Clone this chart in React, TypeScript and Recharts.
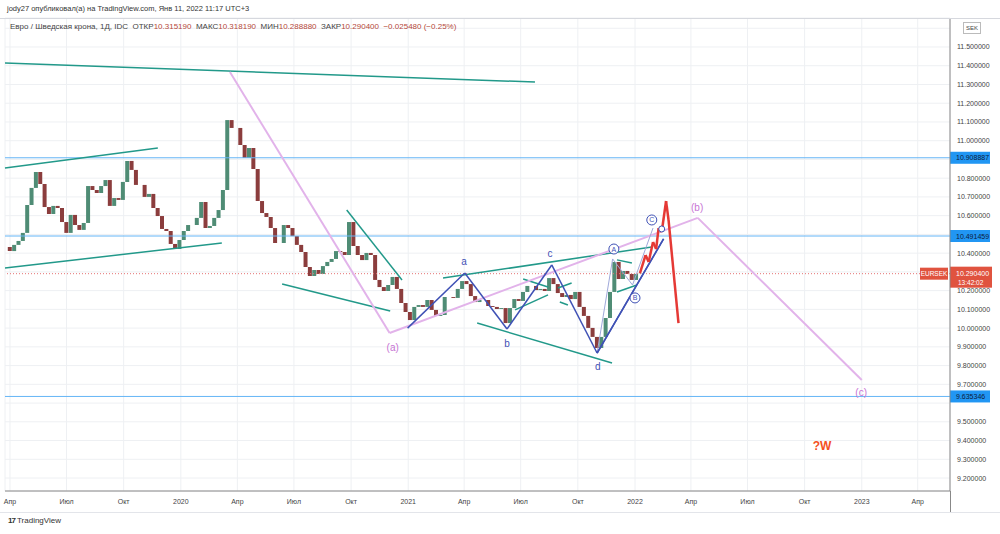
import React from 'react';
import { ComposedChart, Bar, XAxis, YAxis, CartesianGrid, ReferenceLine, ReferenceDot, Cell } from 'recharts';

// days are counted from 2019-04-01
const START_DAY = -7; // week of 2019-03-25
const weeklyClose = [
  10.433, 10.411, 10.444, 10.465, 10.508, 10.657, 10.748, 10.833, 10.769, 10.646,
  10.609, 10.652, 10.641, 10.566, 10.508, 10.604, 10.55, 10.524, 10.561, 10.758,
  10.737, 10.721, 10.758, 10.79, 10.652, 10.694, 10.684, 10.78, 10.892, 10.844,
  10.764, 10.764, 10.7, 10.716, 10.641, 10.598, 10.529, 10.518, 10.449, 10.422,
  10.47, 10.518, 10.55, 10.55, 10.588, 10.673, 10.534, 10.545, 10.588, 10.63,
  10.737, 11.11, 11.068, 11.068, 10.977, 10.908, 10.961, 10.849, 10.678, 10.614,
  10.593, 10.534, 10.454, 10.454, 10.55, 10.534, 10.491, 10.444, 10.406, 10.326,
  10.278, 10.31, 10.289, 10.331, 10.353, 10.369, 10.411, 10.406, 10.39, 10.566,
  10.438, 10.39, 10.363, 10.401, 10.39, 10.257, 10.219, 10.198, 10.23, 10.273,
  10.209, 10.134, 10.086, 10.043, 10.113, 10.123, 10.113, 10.15, 10.097, 10.065,
  10.07, 10.166, 10.166, 10.161, 10.209, 10.251, 10.235, 10.171, 10.139, 10.15,
  10.15, 10.118, 10.113, 10.102, 10.107, 10.027, 10.107, 10.155, 10.145, 10.193,
  10.225, 10.225, 10.203, 10.209, 10.198, 10.267, 10.235, 10.187, 10.166, 10.177,
  10.155, 10.193, 10.113, 10.065, 10.001, 9.953, 9.894, 9.953, 10.054, 10.193,
  10.353, 10.262, 10.305, 10.289, 10.257, 10.289, 10.2904,
];

const TIME_TICKS = [0, 91, 183, 275, 366, 457, 549, 641, 731, 822, 914, 1006, 1096, 1187, 1279, 1371, 1461];
const TIME_LABELS = ['Апр', 'Июл', 'Окт', '2020', 'Апр', 'Июл', 'Окт', '2021', 'Апр', 'Июл', 'Окт', '2022', 'Апр', 'Июл', 'Окт', '2023', 'Апр'];
const PRICE_TICKS = [9.2, 9.3, 9.4, 9.5, 9.6, 9.7, 9.8, 9.9, 10.0, 10.1, 10.2, 10.3, 10.4, 10.5, 10.6, 10.7, 10.8, 10.9, 11.0, 11.1, 11.2, 11.3, 11.4, 11.5, 11.6];

const LEVELS = [10.908887, 10.491459, 9.635346];
const LAST_PRICE = 10.2904;

type P = [number, number];
// drawn lines: [day, price]
const tealLines: P[][] = [
  [[-8, 11.415], [845, 11.313]],
  [[-8, 10.854], [238, 10.961]],
  [[-8, 10.321], [341, 10.454]],
  [[438, 10.235], [612, 10.091]],
  [[542, 10.63], [631, 10.257]],
  [[697, 10.267], [1033, 10.433]],
  [[752, 10.027], [969, 9.814]],
  [[826, 10.262], [866, 10.219]],
  [[813, 10.097], [866, 10.177]],
  [[882, 10.214], [904, 10.241]],
  [[885, 10.139], [898, 10.123]],
  [[977, 10.364], [1001, 10.347]],
  [[977, 10.193], [1009, 10.23]],
];
const blueZigzag: P[] = [[640, 10.0], [732, 10.294], [800, 9.995], [872, 10.337], [945, 9.867], [1052, 10.476]];
const lightBlue: P[] = [[945, 9.867], [970, 10.369], [1002, 10.23], [1035, 10.534]];
const purpleWave: P[] = [[354, 11.367], [611, 9.974], [1107, 10.588], [1371, 9.723]];
const redPath: P[] = [[1014, 10.294], [1023, 10.39], [1028, 10.353], [1035, 10.459], [1040, 10.422], [1044, 10.534], [1049, 10.513], [1056, 10.678], [1060, 10.577], [1076, 10.027]];

const waveLabels = [
  { t: 'a', x: 731, y: 10.358 },
  { t: 'b', x: 800, y: 9.92 },
  { t: 'c', x: 869, y: 10.401 },
  { t: 'd', x: 946, y: 9.793 },
];
const bigWaveLabels = [
  { t: '(a)', x: 616, y: 9.899 },
  { t: '(b)', x: 1106, y: 10.646 },
  { t: '(c)', x: 1370, y: 9.659 },
];
const circled = [
  { t: 'A', x: 972, y: 10.422 },
  { t: 'B', x: 1006, y: 10.161 },
  { t: 'C', x: 1033, y: 10.577 },
];

const candles = weeklyClose.map((c, i) => {
  const o = i === 0 ? c : weeklyClose[i - 1];
  return { day: START_DAY + 7 * i, open: o, close: c, body: [Math.min(o, c), Math.max(o, c)] };
});

const FONT = '"Liberation Sans", Arial, sans-serif';

const segs = (pts: P[]) => pts.slice(1).map((p, i) => [pts[i], p] as [P, P]);

// price labels hidden under the coloured axis boxes (and the SEK badge)
const covered = (v: number) =>
  v > 11.55 || Math.abs(v - LAST_PRICE) < 0.045 || LEVELS.some((l) => Math.abs(v - l) < 0.04);

const PriceTick = (props: any) => {
  const { x, y, payload } = props;
  if (covered(payload.value)) return null;
  return (
    <text x={x} y={y + 2.5} fontSize={7} fill="#444" fontFamily={FONT}>
      {payload.value.toFixed(6)}
    </text>
  );
};

const LevelBox = (props: any) => {
  const { viewBox, value } = props;
  const x = viewBox.x + viewBox.width;
  const y = viewBox.y;
  return (
    <g>
      <rect x={x} y={y - 6} width={40} height={12} fill="#2196f3" />
      <text x={x + 6} y={y + 2.5} fontSize={7} fill="#0d1b3a" fontFamily={FONT}>{value}</text>
    </g>
  );
};

const LastBox = (props: any) => {
  const { viewBox } = props;
  const x = viewBox.x + viewBox.width;
  const y = viewBox.y;
  return (
    <g>
      <rect x={x - 30} y={y - 6} width={28} height={12} fill="#e0533f" />
      <text x={x - 16} y={y + 2.5} fontSize={6.5} fill="#fff" textAnchor="middle" fontFamily={FONT}>EURSEK</text>
      <rect x={x} y={y - 7} width={42} height={21} fill="#e0533f" />
      <text x={x + 6} y={y + 2} fontSize={7} fill="#fff" fontFamily={FONT}>{LAST_PRICE.toFixed(6)}</text>
      <text x={x + 8} y={y + 11} fontSize={6.5} fill="#fff" fontFamily={FONT}>13:42:02</text>
    </g>
  );
};

const App: React.FC = () => {
  return (
    <div style={{ position: 'absolute', left: 0, top: 0, width: 1000, height: 534, background: '#fff', fontFamily: FONT, overflow: 'hidden' }}>
      <ComposedChart width={1000} height={512} data={candles} margin={{ top: 18, right: 0, left: 5, bottom: 0 }}>
        <CartesianGrid stroke="#eef0f3" />
        <XAxis
          dataKey="day"
          type="number"
          domain={[-8, 1513]}
          ticks={TIME_TICKS}
          interval={0}
          tickFormatter={(v: number) => TIME_LABELS[TIME_TICKS.indexOf(v)] ?? ''}
          height={21}
          tickSize={0}
          tickMargin={8}
          stroke="#888"
          tick={{ fontSize: 7, fill: '#444', fontFamily: FONT }}
          allowDataOverflow
        />
        <YAxis
          orientation="right"
          type="number"
          domain={[9.1308, 11.6547]}
          ticks={PRICE_TICKS}
          interval={0}
          width={50}
          tickSize={0}
          tickMargin={7}
          stroke="#888"
          tick={<PriceTick />}
          allowDataOverflow
        />
        <Bar dataKey="body" barSize={4} isAnimationActive={false}>
          {candles.map((c, i) => (
            <Cell key={i} fill={c.close >= c.open ? '#4f8c75' : '#8b3d3d'} />
          ))}
        </Bar>
        {LEVELS.map((l) => (
          <ReferenceLine key={l} y={l} stroke="#64b5f6" strokeWidth={1} label={<LevelBox value={l.toFixed(6)} />} />
        ))}
        <ReferenceLine y={LAST_PRICE} stroke="#e57373" strokeDasharray="1 2" label={<LastBox />} />
        {tealLines.map((s, i) => (
          <ReferenceLine key={'t' + i} segment={[{ x: s[0][0], y: s[0][1] }, { x: s[1][0], y: s[1][1] }]} stroke="#22998a" strokeWidth={1.5} ifOverflow="visible" />
        ))}
        {segs(purpleWave).map((s, i) => (
          <ReferenceLine key={'p' + i} segment={[{ x: s[0][0], y: s[0][1] }, { x: s[1][0], y: s[1][1] }]} stroke="#e2b3ea" strokeWidth={2} ifOverflow="visible" />
        ))}
        {segs(lightBlue).map((s, i) => (
          <ReferenceLine key={'lb' + i} segment={[{ x: s[0][0], y: s[0][1] }, { x: s[1][0], y: s[1][1] }]} stroke="#9fa8da" strokeWidth={1} ifOverflow="visible" />
        ))}
        {segs(blueZigzag).map((s, i) => (
          <ReferenceLine key={'b' + i} segment={[{ x: s[0][0], y: s[0][1] }, { x: s[1][0], y: s[1][1] }]} stroke="#3f51b5" strokeWidth={1.5} ifOverflow="visible" />
        ))}
        <ReferenceLine segment={[{ x: 945, y: 9.867 }, { x: 1052, y: 10.476 }]} stroke="#3f51b5" strokeWidth={1.5} ifOverflow="visible" />
        {segs(redPath).map((s, i) => (
          <ReferenceLine key={'r' + i} segment={[{ x: s[0][0], y: s[0][1] }, { x: s[1][0], y: s[1][1] }]} stroke="#e53935" strokeWidth={2.5} ifOverflow="visible" />
        ))}
        {waveLabels.map((w) => (
          <ReferenceDot key={w.t} x={w.x} y={w.y} r={0} ifOverflow="visible"
            label={{ value: w.t, position: 'center', fontSize: 10, fill: '#3f51b5', fontFamily: FONT }} />
        ))}
        {bigWaveLabels.map((w) => (
          <ReferenceDot key={w.t} x={w.x} y={w.y} r={0} ifOverflow="visible"
            label={{ value: w.t, position: 'center', fontSize: 10, fill: '#c774d4', fontFamily: FONT }} />
        ))}
        {circled.map((w) => (
          <ReferenceDot key={w.t} x={w.x} y={w.y} r={5} fill="#fff" stroke="#3f51b5" strokeWidth={1} ifOverflow="visible"
            label={{ value: w.t, position: 'center', fontSize: 7, fill: '#3f51b5', fontFamily: FONT }} />
        ))}
        <ReferenceDot x={1049} y={10.529} r={3} fill="#fff" stroke="#3f51b5" strokeWidth={1} ifOverflow="visible" />
        <ReferenceDot x={1307} y={9.371} r={0} ifOverflow="visible"
          label={{ value: '?W', position: 'center', fontSize: 12, fontWeight: 'bold', fill: '#f4511e', fontFamily: FONT }} />
      </ComposedChart>

      {/* header */}
      <div style={{ position: 'absolute', left: 7, top: 4, fontSize: 7.5, color: '#333', whiteSpace: 'nowrap' }}>
        jody27 опубликовал(а) на TradingView.com, Янв 11, 2022 11:17 UTC+3
      </div>
      <div style={{ position: 'absolute', left: 0, top: 18, width: 1000, height: 1, background: '#d6d8de' }} />
      <div style={{ position: 'absolute', left: 10, top: 22, fontSize: 8, color: '#444', whiteSpace: 'nowrap' }}>
        Евро / Шведская крона, 1Д, IDC&nbsp;&nbsp;ОТКР<span style={{ color: '#b5483a' }}>10.315190</span>&nbsp;&nbsp;МАКС
        <span style={{ color: '#b5483a' }}>10.318190</span>&nbsp;&nbsp;МИН<span style={{ color: '#b5483a' }}>10.288880</span>
        &nbsp;&nbsp;ЗАКР<span style={{ color: '#b5483a' }}>10.290400</span>&nbsp;&nbsp;
        <span style={{ color: '#b5483a' }}>−0.025480 (−0.25%)</span>
      </div>
      <div style={{ position: 'absolute', left: 963, top: 22, width: 16, height: 10, border: '1px solid #bbb', background: '#fff', fontSize: 6, color: '#444', textAlign: 'center', lineHeight: '10px' }}>
        SEK
      </div>
      {/* frame */}
      <div style={{ position: 'absolute', left: 950, top: 491, width: 1, height: 21, background: '#888' }} />
      <div style={{ position: 'absolute', left: 0, top: 512, width: 1000, height: 1, background: '#e3e5ea' }} />
      <div style={{ position: 'absolute', left: 8, top: 516, fontSize: 8, color: '#333', whiteSpace: 'nowrap' }}>
        <b style={{ fontSize: 8, letterSpacing: -1 }}>17</b> TradingView
      </div>
    </div>
  );
};

export default App;
